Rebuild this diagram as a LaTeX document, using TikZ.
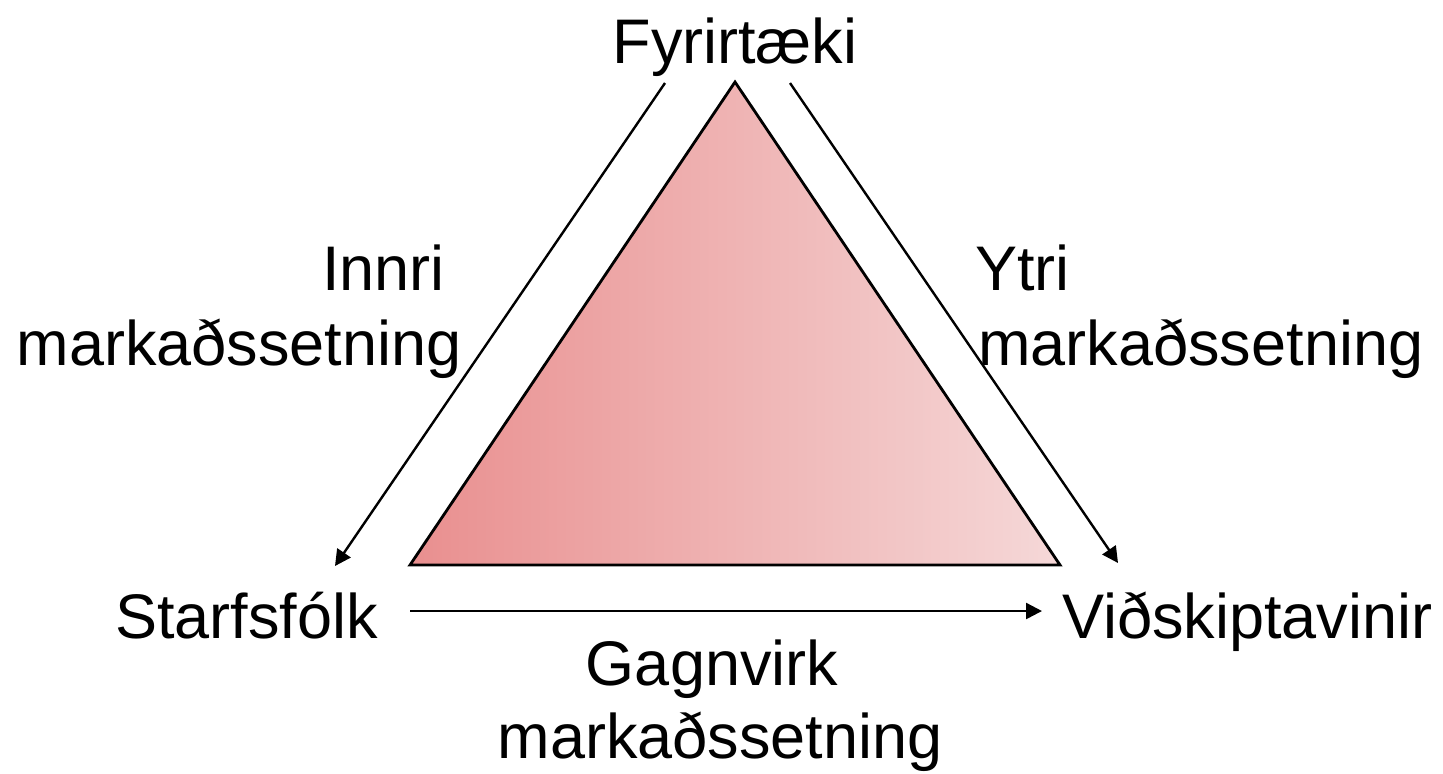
\documentclass[tikz,border=0pt]{standalone}
\usepackage{fontspec}
\setmainfont{Liberation Sans}
\usetikzlibrary{arrows.meta}
\definecolor{gradL}{RGB}{233,143,143}
\definecolor{gradR}{RGB}{245,216,216}
\begin{document}
\begin{tikzpicture}[x=0.5pt,y=-0.5pt,
  lbl/.style={inner sep=0pt,font=\fontsize{31.5}{38}\selectfont},
  conn/.style={line width=1.2pt,-{Triangle[length=8pt,width=8pt]}}]
\useasboundingbox (0,0) rectangle (1443,773);
% triangle
\coordinate (apex) at (735,82);
\coordinate (bl) at (410,565);
\coordinate (br) at (1060,565);
\shade[left color=gradL,right color=gradR] (apex) -- (bl) -- (br) -- cycle;
\draw[line width=1.4pt,line join=miter] (apex) -- (bl) -- (br) -- cycle;
% labels
\node[lbl,anchor=base] (top) at (735,63) {Fyrirtæki};
\node[lbl,anchor=base east] (in1) at (445,290) {Innri};
\node[lbl,anchor=base east] (in2) at (462,365) {markaðssetning};
\node[lbl,anchor=base west] (yt1) at (975,290) {Ytri};
\node[lbl,anchor=base west] (yt2) at (978,365) {markaðssetning};
\node[lbl,anchor=base east] (staff) at (378,638) {Starfsfólk};
\node[lbl,anchor=base west] (cust) at (1062,638) {Viðskiptavinir};
\node[lbl,anchor=base] (ga1) at (712,685) {Gagnvirk};
\node[lbl,anchor=base] (ga2) at (720,758) {markaðssetning};
% connectors
\coordinate (la) at (665,83);
\coordinate (lb) at (335,566);
\coordinate (ra) at (790,83);
\coordinate (rb) at (1118,563);
\coordinate (ba) at (410,611);
\coordinate (bb) at (1042,611);
\draw[conn] (la) -- (lb);
\draw[conn] (ra) -- (rb);
\draw[conn] (ba) -- (bb);
\end{tikzpicture}
\end{document}
